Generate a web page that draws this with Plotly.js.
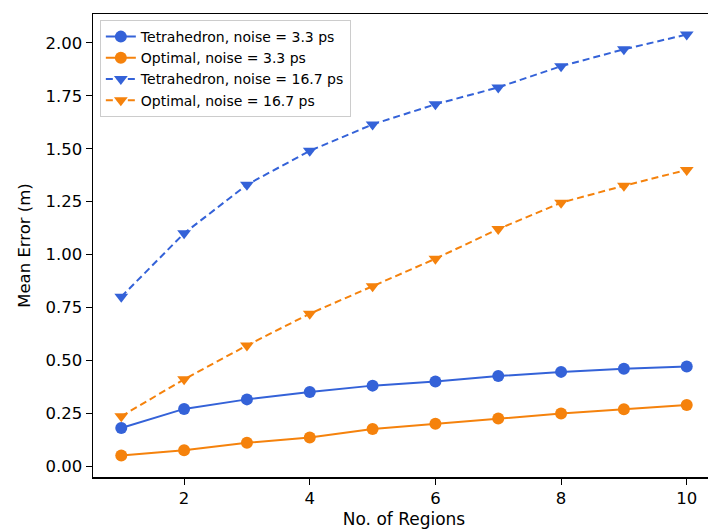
<!DOCTYPE html>
<html><head><meta charset="utf-8">
<script src="https://cdn.plot.ly/plotly-3.0.1.min.js"></script>
<style>html,body{margin:0;padding:0;overflow:hidden;width:708px;height:529px;background:#fff}</style>
</head><body><div id="chart"></div>
<script>
const regions = [1,2,3,4,5,6,7,8,9,10];
const tetraLow = [0.18,0.27,0.315,0.35,0.38,0.40,0.425,0.445,0.46,0.47];
const optLow = [0.05,0.075,0.11,0.135,0.175,0.20,0.225,0.248,0.268,0.288];
const tetraHigh = [0.80,1.10,1.33,1.49,1.615,1.71,1.79,1.89,1.97,2.04];
const optHigh = [0.235,0.41,0.57,0.72,0.85,0.98,1.12,1.245,1.325,1.40];
const names = ['Tetrahedron, noise = 3.3 ps','Optimal, noise = 3.3 ps','Tetrahedron, noise = 16.7 ps','Optimal, noise = 16.7 ps'];
const blue = '#3462d8', orange = '#f5820c';
const mk = (y, name, color, dash, sym) => ({
  x: regions, y: y, name: name, type: 'scatter', mode: 'lines+markers',
  line: {color: color, width: 2, dash: dash},
  marker: {color: color, size: 12, symbol: sym}
});
const data = [
  mk(tetraLow, names[0], blue, 'solid', 'circle'),
  mk(optLow, names[1], orange, 'solid', 'circle'),
  mk(tetraHigh, names[2], blue, '7px,4px', 'triangle-down'),
  mk(optHigh, names[3], orange, '7px,4px', 'triangle-down')
];
const layout = {
  width: 716, height: 529,
  margin: {l: 93, r: 1, t: 14, b: 52},
  paper_bgcolor: '#fff', plot_bgcolor: '#fff',
  font: {family: 'DejaVu Sans, sans-serif', color: '#000', size: 16.5},
  showlegend: true,
  legend: {x: 0.011, y: 0.987, xanchor: 'left', yanchor: 'top',
    bgcolor: 'rgba(255,255,255,0.8)', bordercolor: '#cccccc', borderwidth: 1,
    font: {size: 14}, tracegroupgap: 0},
  xaxis: {range: [0.55, 10.45], tickvals: [2,4,6,8,10], ticktext: ['2','4','6','8','10'],
    showgrid: false, zeroline: false, showline: true, mirror: true, linecolor: '#000', linewidth: 1.5,
    ticks: 'outside', ticklen: 6, tickwidth: 1, tickcolor: '#000',
    title: {text: 'No. of Regions', font: {size: 17}, standoff: 6}},
  yaxis: {range: [-0.052, 2.137], tickvals: [0,0.25,0.5,0.75,1,1.25,1.5,1.75,2],
    ticktext: ['0.00','0.25','0.50','0.75','1.00','1.25','1.50','1.75','2.00'],
    showgrid: false, zeroline: false, showline: true, mirror: true, linecolor: '#000', linewidth: 1.5,
    ticks: 'outside', ticklen: 6, tickwidth: 1, tickcolor: '#000',
    title: {text: 'Mean Error (m)', font: {size: 16.5}, standoff: 10}}
};
Plotly.newPlot('chart', data, layout, {displayModeBar: false, staticPlot: true});
</script></body></html>
